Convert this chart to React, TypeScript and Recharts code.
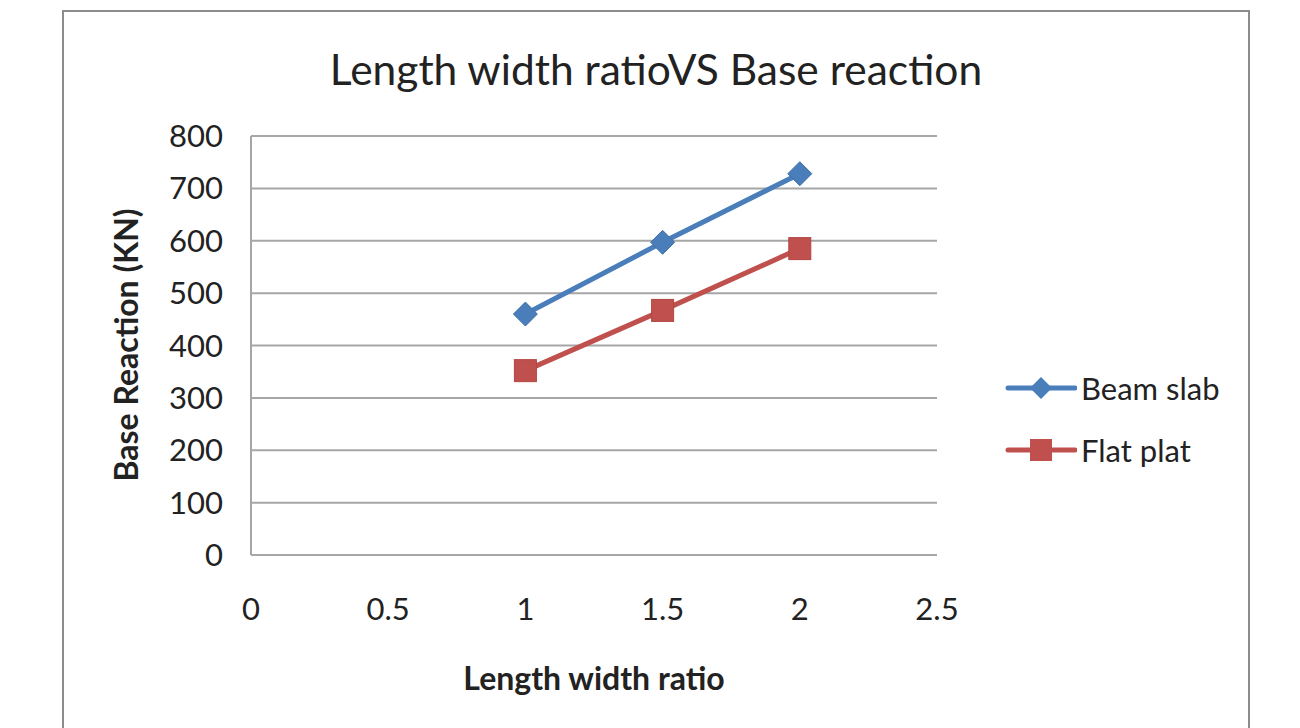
import React from 'react';
import { LineChart, Line, XAxis, YAxis, CartesianGrid } from 'recharts';

const ratios = [1, 1.5, 2];
const beamSlab = [460, 597, 728];
const flatPlat = [352, 467, 585];
const xTicks = [0, 0.5, 1, 1.5, 2, 2.5];
const yTicks = [0, 100, 200, 300, 400, 500, 600, 700, 800];

const BLUE = '#4a7ebb';
const RED = '#c0504d';
const FONT = 'Lato, "Open Sans", sans-serif';

const data = ratios.map((r, i) => ({ ratio: r, beam: beamSlab[i], flat: flatPlat[i] }));

const Diamond = (props: any) => {
  const { cx, cy } = props;
  if (cx == null || cy == null) return null;
  const s = 12;
  return (
    <path
      d={`M${cx},${cy - s} L${cx + s},${cy} L${cx},${cy + s} L${cx - s},${cy} Z`}
      fill={BLUE}
      stroke="#3f6fa8"
      strokeWidth={1}
    />
  );
};

const Square = (props: any) => {
  const { cx, cy } = props;
  if (cx == null || cy == null) return null;
  const s = 11;
  return <rect x={cx - s} y={cy - s} width={s * 2} height={s * 2} fill={RED} stroke="#b34541" strokeWidth={1} />;
};

const legendItems = [
  { name: 'Beam slab', color: BLUE, marker: 'diamond' },
  { name: 'Flat plat', color: RED, marker: 'square' },
];

const LegendBox = () => (
  <div style={{ position: 'absolute', left: 1005, top: 357, fontFamily: FONT, fontSize: 31, color: '#222' }}>
    {legendItems.map((item) => (
      <div key={item.name} style={{ display: 'flex', alignItems: 'center', height: 62 }}>
        <svg width={72} height={30}>
          <line x1={3} y1={15} x2={70} y2={15} stroke={item.color} strokeWidth={5} strokeLinecap="round" />
          {item.marker === 'diamond' ? (
            <path d="M36,4 L47,15 L36,26 L25,15 Z" fill={item.color} />
          ) : (
            <rect x={25} y={4} width={22} height={22} fill={item.color} />
          )}
        </svg>
        <span style={{ marginLeft: 4 }}>{item.name}</span>
      </div>
    ))}
  </div>
);

export default function App() {
  return (
    <div style={{ position: 'absolute', left: 0, top: 0, width: 1300, height: 728, overflow: 'hidden', background: '#fff' }}>
      <div
        style={{
          position: 'absolute',
          left: 62,
          top: 10,
          width: 1188,
          height: 740,
          border: '2px solid #8c8c8c',
          boxSizing: 'border-box',
        }}
      />
      <div
        style={{
          position: 'absolute',
          left: 656,
          top: 68,
          transform: 'translate(-50%, -50%)',
          whiteSpace: 'nowrap',
          fontFamily: FONT,
          fontSize: 42.5,
          color: '#222',
        }}
      >
        Length width ratioVS Base reaction
      </div>
      <div
        style={{
          position: 'absolute',
          left: 125,
          top: 345,
          transform: 'translate(-50%, -50%) rotate(-90deg)',
          whiteSpace: 'nowrap',
          fontFamily: FONT,
          fontWeight: 'bold',
          fontSize: 32,
          color: '#222',
        }}
      >
        Base Reaction (KN)
      </div>
      <div
        style={{
          position: 'absolute',
          left: 594,
          top: 677,
          transform: 'translate(-50%, -50%)',
          whiteSpace: 'nowrap',
          fontFamily: FONT,
          fontWeight: 'bold',
          fontSize: 32,
          color: '#222',
        }}
      >
        Length width ratio
      </div>
      <LegendBox />
      <div style={{ position: 'absolute', left: 0, top: 0 }}>
        <LineChart width={1300} height={728} data={data} margin={{ top: 136, left: 171, right: 363, bottom: 93 }}>
          <CartesianGrid horizontal vertical={false} stroke="#a6a6a6" strokeWidth={2} />
          <XAxis
            type="number"
            dataKey="ratio"
            domain={[0, 2.5]}
            ticks={xTicks}
            height={80}
            axisLine={false}
            tickLine={false}
            tickSize={0}
            tickMargin={43}
            tick={{ fill: '#222', fontSize: 31, fontFamily: FONT }}
          />
          <YAxis
            type="number"
            domain={[0, 800]}
            ticks={yTicks}
            width={80}
            axisLine={{ stroke: '#a6a6a6', strokeWidth: 2 }}
            tickLine={false}
            tickSize={0}
            tickMargin={28}
            tick={{ fill: '#222', fontSize: 31, fontFamily: FONT }}
          />
          <Line
            dataKey="beam"
            name="Beam slab"
            stroke={BLUE}
            strokeWidth={5}
            dot={<Diamond />}
            activeDot={false}
            isAnimationActive={false}
          />
          <Line
            dataKey="flat"
            name="Flat plat"
            stroke={RED}
            strokeWidth={5}
            dot={<Square />}
            activeDot={false}
            isAnimationActive={false}
          />
        </LineChart>
      </div>
    </div>
  );
}
